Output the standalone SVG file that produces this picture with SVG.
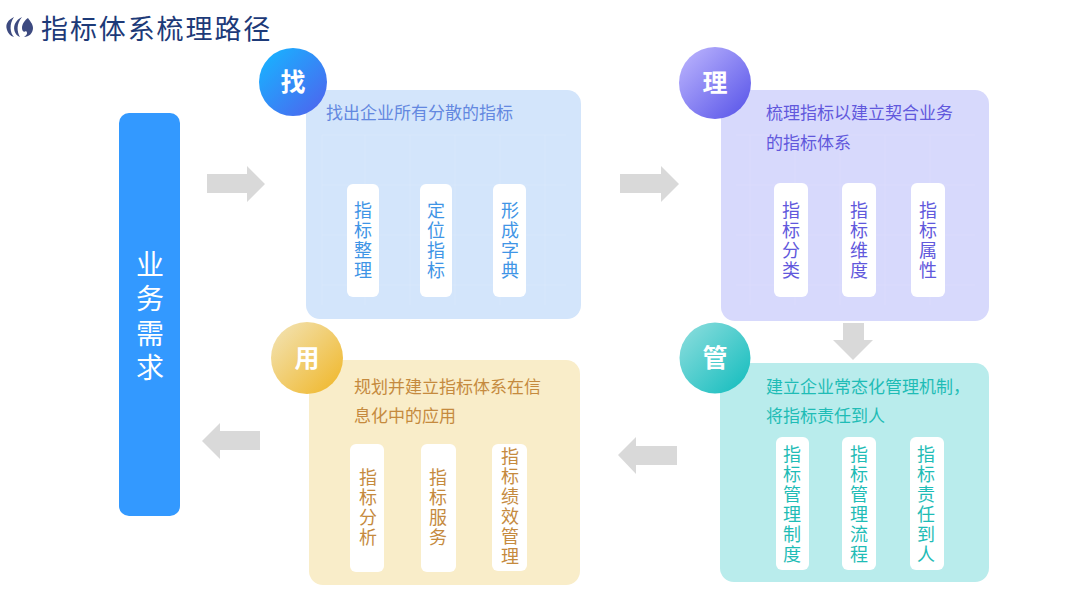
<svg xmlns="http://www.w3.org/2000/svg" width="1080" height="608" viewBox="0 0 1080 608">
<style>
text{font-family:"Noto Sans CJK SC","Noto Sans",sans-serif}
.ttl{font-size:27px;letter-spacing:1.9px;fill:#1d3a78}
.h{font-size:17px}
.c{font-size:18px;text-anchor:middle;writing-mode:vertical-rl;letter-spacing:2px}
.b{font-size:28px;fill:#fff;text-anchor:middle;writing-mode:vertical-rl;letter-spacing:6.3px}
.k{font-size:25px;font-weight:700;fill:#fff;text-anchor:middle}
.card{fill:#fff}
.grid{stroke:#fff;stroke-opacity:.1;fill:none}
.arr{fill:#d9d9d9}
.t1{fill:#3f95e6}.t2{fill:#6158dc}.t3{fill:#1fbcb6}.t4{fill:#c58a3e}
.h1{fill:#6388e0}
</style>
<defs>
<linearGradient id="g1" x1="0.1" y1="0.1" x2="0.9" y2="0.9"><stop offset="0" stop-color="#1ab0ff"/><stop offset="1" stop-color="#4b68ef"/></linearGradient>
<linearGradient id="g2" x1="0.1" y1="0.1" x2="0.9" y2="0.9"><stop offset="0" stop-color="#b5aefc"/><stop offset="1" stop-color="#5f5bea"/></linearGradient>
<linearGradient id="g3" x1="0.1" y1="0.1" x2="0.9" y2="0.9"><stop offset="0" stop-color="#84dbdb"/><stop offset="1" stop-color="#1cbfc0"/></linearGradient>
<linearGradient id="g4" x1="0.1" y1="0.1" x2="0.9" y2="0.9"><stop offset="0" stop-color="#f2e0ab"/><stop offset="1" stop-color="#f0ba33"/></linearGradient>
</defs>
<rect width="1080" height="608" fill="#fff"/>
<g id="logo" fill="#3d4a80">
<path d="M14 17C8 20 5 24 7 30C8 33 10 36 14 37C10 33 9 24 14 17Z"/>
<path d="M22 17C16 20 13 25 14.500 31C15.500 34 17 36 20 37C17 32 16 24 22 17Z"/>
<path d="M28 18C30 21 33 24 33 28C33 33 29 37 24 37C27 35 28 33 26 31C24 33 22 31 22 28C22 24 25 20 28 18Z"/>
</g>
<text id="title" class="ttl" x="41" y="39">指标体系梳理路径</text>
<g id="connectors">
<polygon class="arr" points="207,174 247,174 247,166 265,184 247,202 247,193 207,193"/>
<polygon class="arr" points="620,174 661,174 661,166 679,184 661,202 661,193 620,193"/>
<polygon class="arr" points="843,323 864,323 864,340 873,340 853,360 833,340 843,340"/>
<polygon class="arr" points="677,446 636,446 636,437 618,455 636,474 636,465 677,465"/>
<polygon class="arr" points="260,431 220,431 220,423 202,441 220,459 220,450 260,450"/>
</g>
<g id="need">
<rect x="119" y="113" width="61" height="403" rx="10" fill="#3399ff"/>
<text class="b" x="150" y="319">业务需求</text>
</g>
<g id="find">
<rect x="306" y="90" width="275" height="229" rx="14" fill="#d3e5fb"/>
<path class="grid" d="M322 135H566M322 185H566M322 235H566M322 285H566M322 135V305M365 135V305M410 135V305M455 135V305M500 135V305M545 135V305"/>
<circle cx="293" cy="82" r="34" fill="url(#g1)"/>
<text class="k" x="293" y="91">找</text>
<text class="h h1" x="326" y="119">找出企业所有分散的指标</text>
<rect class="card" x="347" y="184" width="32" height="113" rx="6"/>
<rect class="card" x="420" y="184" width="32" height="113" rx="6"/>
<rect class="card" x="493" y="184" width="33" height="113" rx="6"/>
<text class="c t1" x="363" y="241">指标整理</text>
<text class="c t1" x="436" y="241">定位指标</text>
<text class="c t1" x="510" y="241">形成字典</text>
</g>
<g id="sort">
<rect x="721" y="90" width="268" height="231" rx="14" fill="#d7d9fc"/>
<path class="grid" d="M736 135H975M736 185H975M736 235H975M736 285H975M750 135V305M795 135V305M840 135V305M885 135V305M930 135V305"/>
<circle cx="715" cy="83" r="36" fill="url(#g2)"/>
<text class="k" x="715" y="92">理</text>
<text class="h t2" x="766" y="119">梳理指标以建立契合业务</text>
<text class="h t2" x="766" y="149">的指标体系</text>
<rect class="card" x="774" y="183" width="34" height="114" rx="6"/>
<rect class="card" x="842" y="183" width="34" height="114" rx="6"/>
<rect class="card" x="911" y="183" width="34" height="114" rx="6"/>
<text class="c t2" x="791" y="241">指标分类</text>
<text class="c t2" x="859" y="241">指标维度</text>
<text class="c t2" x="928" y="241">指标属性</text>
</g>
<g id="manage">
<rect x="720" y="363" width="269" height="219" rx="14" fill="#b9ecec"/>
<circle cx="715" cy="358" r="35.500" fill="url(#g3)"/>
<text class="k" x="715" y="367">管</text>
<text class="h t3" x="766" y="393">建立企业常态化管理机制，</text>
<text class="h t3" x="766" y="422">将指标责任到人</text>
<rect class="card" x="776" y="437" width="33" height="133" rx="6"/>
<rect class="card" x="842" y="437" width="34" height="133" rx="6"/>
<rect class="card" x="910" y="437" width="34" height="133" rx="6"/>
<text class="c t3" x="792" y="505">指标管理制度</text>
<text class="c t3" x="859" y="505">指标管理流程</text>
<text class="c t3" x="926" y="505">指标责任到人</text>
</g>
<g id="use">
<rect x="309" y="360" width="271" height="225" rx="14" fill="#f9edc9"/>
<circle cx="307" cy="358" r="36" fill="url(#g4)"/>
<text class="k" x="307" y="367">用</text>
<text class="h t4" x="354" y="393">规划并建立指标体系在信</text>
<text class="h t4" x="354" y="422">息化中的应用</text>
<rect class="card" x="350" y="444" width="34" height="128" rx="6"/>
<rect class="card" x="421" y="444" width="35" height="128" rx="6"/>
<rect class="card" x="492" y="444" width="35" height="127" rx="6"/>
<text class="c t4" x="368" y="508">指标分析</text>
<text class="c t4" x="438" y="508">指标服务</text>
<text class="c t4" x="510" y="507">指标绩效管理</text>
</g>
</svg>
